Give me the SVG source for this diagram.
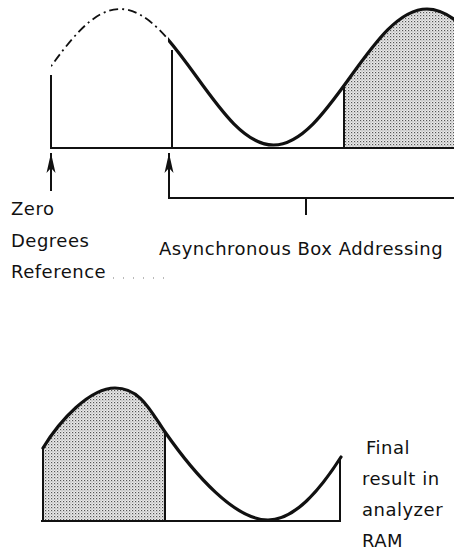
<svg xmlns="http://www.w3.org/2000/svg" width="454" height="552" viewBox="0 0 454 552">
  <style>
    .lbl { font-family: "DejaVu Sans", "Liberation Sans", sans-serif; font-size: 18px; letter-spacing: 0.5px; fill: #111; }
    .axis { stroke: #111; stroke-width: 1.8; fill: none; }
    .curve { stroke: #111; stroke-width: 3.2; fill: none; stroke-linecap: round; }
    .dash { stroke: #111; stroke-width: 1.8; fill: none; stroke-dasharray: 9 4 2 4; }
    .edge { stroke: #111; stroke-width: 2; fill: none; }
    .shade { fill: url(#stipple); stroke: none; }
  </style>
  <defs>
    <pattern id="stipple" width="3" height="3" patternUnits="userSpaceOnUse">
      <rect width="3" height="3" fill="#ebebeb"/>
      <rect x="0" y="0" width="1.2" height="1.2" fill="#555"/>
      <rect x="1.5" y="1.5" width="1" height="1" fill="#888"/>
    </pattern>
    <marker id="arr" viewBox="-20 -5 20 10" refX="0" refY="0" markerWidth="20" markerHeight="10" markerUnits="userSpaceOnUse" orient="auto">
      <path d="M0,0 L-20,-4.5 L-15,0 L-20,4.5 Z" fill="#111"/>
    </marker>
    <path id="sine" d="M43.25,77 C68.3,42.14 92.22,9 120,9 C147.78,9 171.7,42.14 196.75,77 C221.8,111.86 245.72,145 273.5,145 C301.28,145 325.2,111.86 350.25,77 C375.3,42.14 399.22,9 427,9 C454.78,9 478.7,42.14 503.75,77"/>
    <clipPath id="clipDash"><rect x="51" y="0" width="117" height="148"/></clipPath>
    <clipPath id="clipSolid"><rect x="168" y="0" width="290" height="160"/></clipPath>
    <clipPath id="clipShade"><rect x="344" y="0" width="112" height="148"/></clipPath>
  </defs>

  <g id="top-waveform">
    <path class="shade" clip-path="url(#clipShade)" d="M273.5,148 L273.5,145 C301.28,145 325.2,111.86 350.25,77 C375.3,42.14 399.22,9 427,9 C454.78,9 478.7,42.14 503.75,77 L503.75,148 Z"/>
    <use href="#sine" class="dash" clip-path="url(#clipDash)"/>
    <use href="#sine" class="curve" clip-path="url(#clipSolid)"/>
    <line class="edge" x1="51" y1="75" x2="51" y2="148"/>
    <line class="edge" x1="172" y1="50" x2="172" y2="148"/>
    <line class="edge" x1="344" y1="85" x2="344" y2="148"/>
    <line class="axis" x1="50" y1="148" x2="454" y2="148"/>
  </g>

  <g id="connectors">
    <line class="edge" x1="51" y1="191" x2="51" y2="153" marker-end="url(#arr)"/>
    <path class="edge" d="M454,198 H169 V153" marker-end="url(#arr)"/>
    <line class="edge" x1="306" y1="198" x2="306" y2="215"/>
    <line x1="113" y1="278" x2="165" y2="278" stroke="#777" stroke-width="1.2" stroke-dasharray="1 9"/>
  </g>

  <g id="zero-degrees-reference">
    <text class="lbl" x="11" y="215">Zero</text>
    <text class="lbl" x="11" y="247">Degrees</text>
    <text class="lbl" x="11" y="278">Reference</text>
  </g>

  <g id="asynchronous-box-addressing">
    <text class="lbl" x="159" y="255">Asynchronous Box Addressing</text>
  </g>

  <g id="bottom-waveform">
    <path class="shade" d="M43,521 L43,448 C60,420 90,388 115,388 C140,388 150,410 165,432 L165,521 Z"/>
    <path class="curve" d="M43,448 C60,420 90,388 115,388 C140,388 150,410 165,432 C195,475 235,520 268,520 C295,520 320,490 341,457"/>
    <line class="edge" x1="43" y1="448" x2="43" y2="521"/>
    <line class="edge" x1="165" y1="432" x2="165" y2="521"/>
    <line class="edge" x1="340" y1="458" x2="340" y2="521"/>
    <line class="axis" x1="41" y1="521" x2="341" y2="521"/>
  </g>

  <g id="final-result">
    <text class="lbl" x="366" y="454">Final</text>
    <text class="lbl" x="362" y="485">result in</text>
    <text class="lbl" x="362" y="516">analyzer</text>
    <text class="lbl" x="362" y="547">RAM</text>
  </g>
</svg>
